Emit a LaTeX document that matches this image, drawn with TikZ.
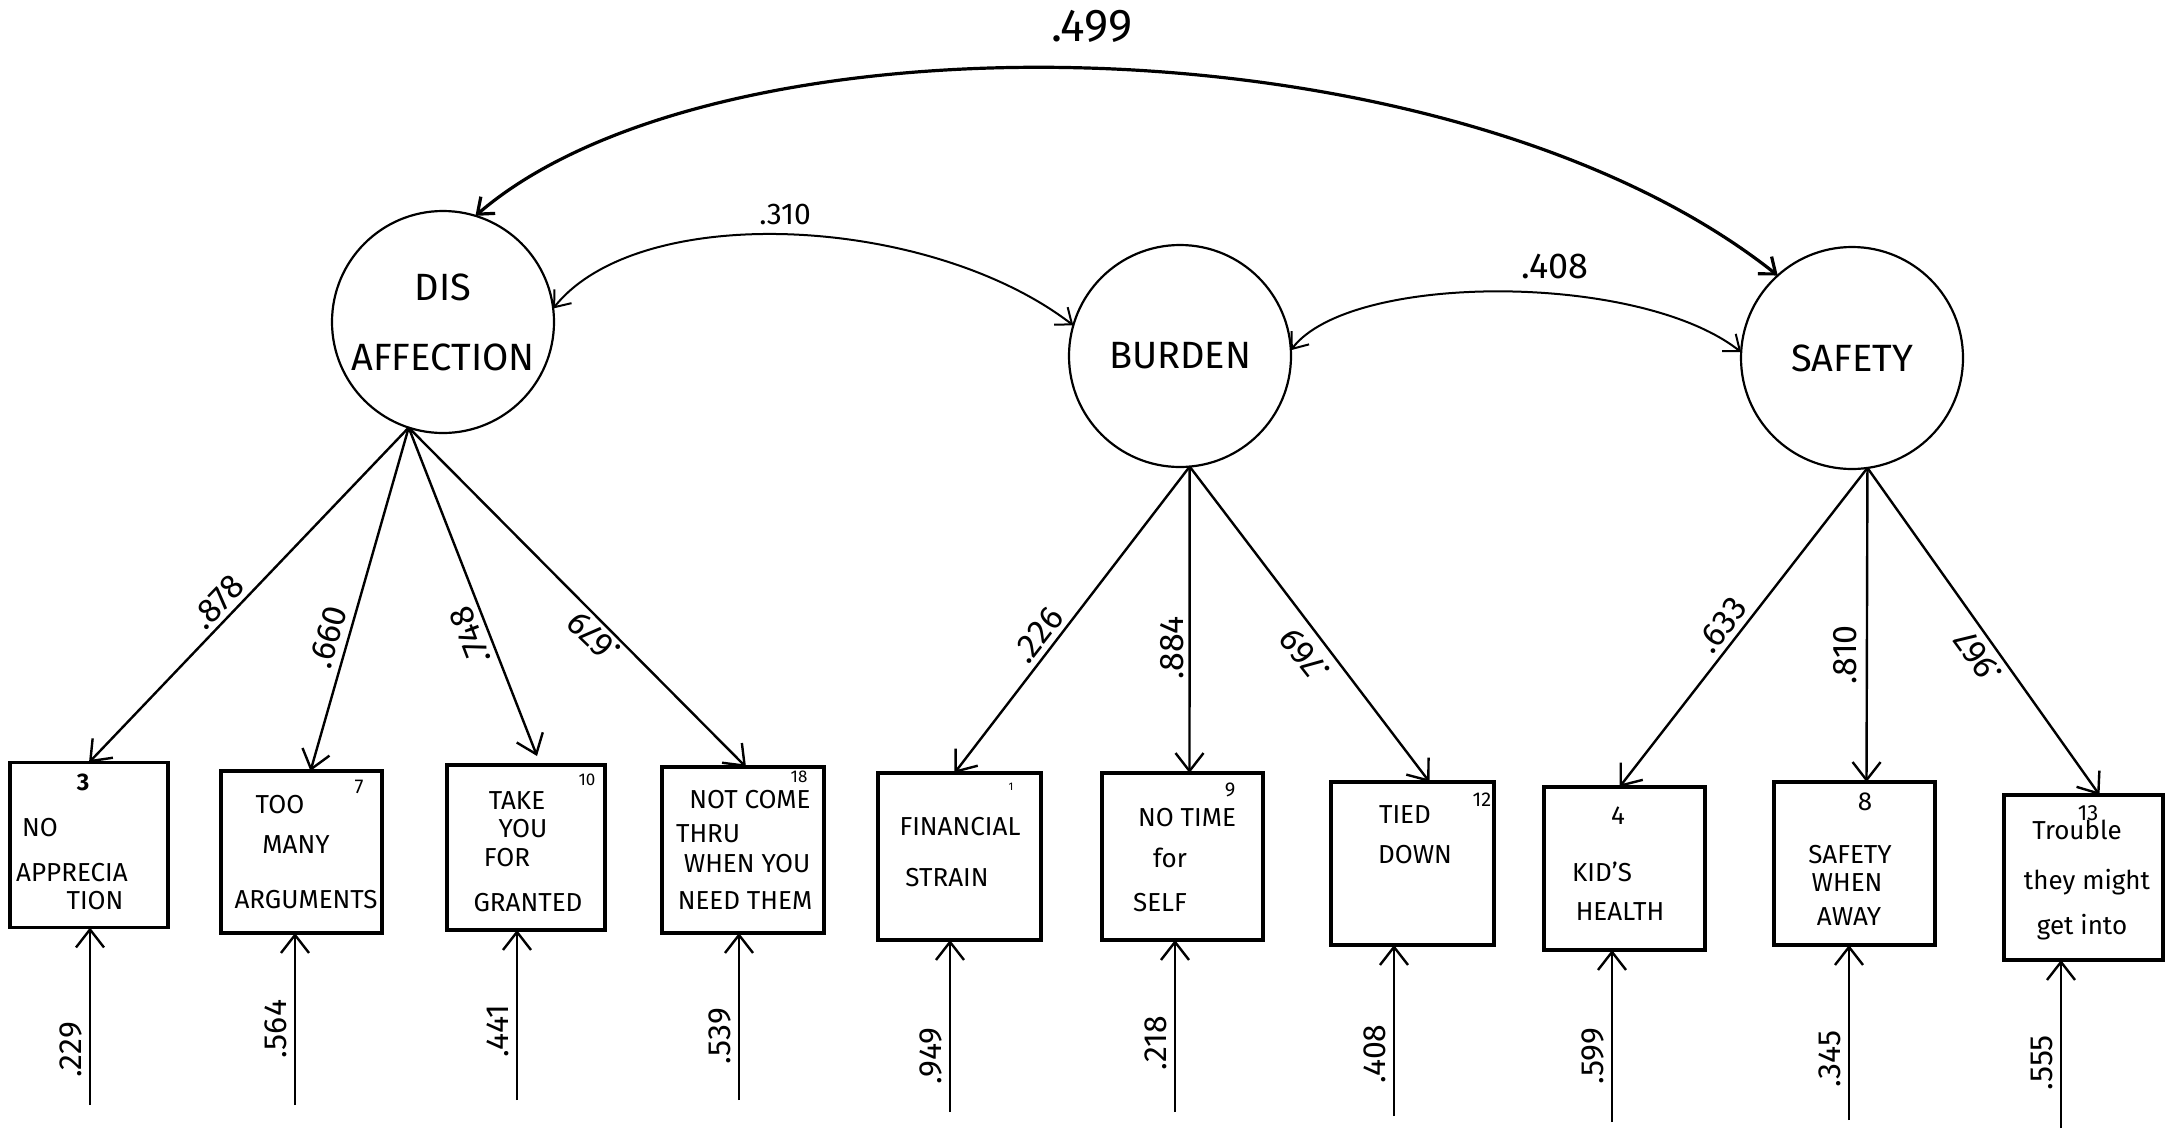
\documentclass[tikz,border=0pt]{standalone}
\usepackage{fontspec}
\setmainfont{Fira Sans}
\usetikzlibrary{arrows.meta}
\begin{document}
\begin{tikzpicture}[x=1pt,y=-1pt,
 every node/.style={inner sep=0pt, outer sep=0pt},
 lat/.style={circle, draw, line width=2.2pt, minimum size=222pt, align=center, font=\fontsize{38}{40}\selectfont},
 obs/.style={draw, line width=3.2pt, rectangle},
 txt/.style={font=\fontsize{26}{30}\selectfont},
 num/.style={font=\fontsize{20}{22}\selectfont},
 coef/.style={font=\fontsize{34}{36}\selectfont},
 errlab/.style={font=\fontsize{32}{34}\selectfont, rotate=90, anchor=south},
 load/.style={line width=2.4pt, -{Straight Barb[length=18pt,width=28pt]}},
 errarr/.style={line width=2.4pt, -{Straight Barb[length=18pt,width=28pt]}},
 cov/.style={line width=2pt, {Straight Barb[length=14pt,width=22pt]}-{Straight Barb[length=14pt,width=22pt]}},
]
\useasboundingbox (0,0) rectangle (2180,1136);
\fill[white] (0,0) rectangle (2180,1136);

% latent variables
\node[lat] (dis) at (443,322) {DIS\\[30pt]AFFECTION};
\node[lat] (bur) at (1180,356) {BURDEN};
\node[lat] (saf) at (1852,358) {SAFETY};

% observed variables
\node[obs, minimum width=158pt, minimum height=165pt] (b1) at (89,845) {};
\node[obs, minimum width=161pt, minimum height=162pt] (b2) at (301.5,852) {};
\node[obs, minimum width=158pt, minimum height=165pt] (b3) at (526,847.5) {};
\node[obs, minimum width=162pt, minimum height=166pt] (b4) at (743,850) {};
\node[obs, minimum width=163pt, minimum height=167pt] (b5) at (959.5,856.5) {};
\node[obs, minimum width=161pt, minimum height=167pt] (b6) at (1182.5,856.5) {};
\node[obs, minimum width=163pt, minimum height=163pt] (b7) at (1412.5,863.5) {};
\node[obs, minimum width=161pt, minimum height=163pt] (b8) at (1624.5,868.5) {};
\node[obs, minimum width=161pt, minimum height=163pt] (b9) at (1854.5,863.5) {};
\node[obs, minimum width=159pt, minimum height=165pt] (b10) at (2083.5,877.5) {};

% box texts
\node[txt] (t1a) at (40,828) {NO};
\node[txt] (t1b) at (72,873) {APPRECIA};
\node[txt] (t1c) at (95,901) {TION};
\node[txt] (t2a) at (280,805) {TOO};
\node[txt] (t2b) at (296,845) {MANY};
\node[txt] (t2c) at (306,900) {ARGUMENTS};
\node[txt] (t3a) at (517,801) {TAKE};
\node[txt] (t3b) at (523,829) {YOU};
\node[txt] (t3c) at (507,858) {FOR};
\node[txt] (t3d) at (528,903) {GRANTED};
\node[txt] (t4a) at (750,800) {NOT COME};
\node[txt] (t4b) at (708,834) {THRU};
\node[txt] (t4c) at (747,864) {WHEN YOU};
\node[txt] (t4d) at (745,901) {NEED THEM};
\node[txt] (t5a) at (960,827) {FINANCIAL};
\node[txt] (t5b) at (947,878) {STRAIN};
\node[txt] (t6a) at (1187,818) {NO TIME};
\node[txt] (t6b) at (1170,858) {for};
\node[txt] (t6c) at (1160,903) {SELF};
\node[txt] (t7a) at (1405,815) {TIED};
\node[txt] (t7b) at (1415,855) {DOWN};
\node[txt] (t8a) at (1602,872) {KID'S};
\node[txt] (t8b) at (1620,912) {HEALTH};
\node[txt] (t9a) at (1850,855) {SAFETY};
\node[txt] (t9b) at (1847,883) {WHEN};
\node[txt] (t9c) at (1849,917) {AWAY};
\node[txt] (t10a) at (2077,830) {Trouble};
\node[txt] (t10b) at (2087,882) {they might};
\node[txt] (t10c) at (2082,927) {get into};

% item numbers
\node[num, font=\fontsize{24}{26}\selectfont\bfseries] (n1) at (83,782) {3};
\node[num] (n2) at (359,787) {7};
\node[num, font=\fontsize{17}{19}\selectfont] (n3) at (587,780) {10};
\node[num, font=\fontsize{17}{19}\selectfont] (n4) at (799,777) {18};
\node[num, font=\fontsize{11}{12}\selectfont] (n5) at (1011,787) {1};
\node[num] (n6) at (1230,790) {9};
\node[num] (n7) at (1482,800) {12};
\node[num, font=\fontsize{26}{28}\selectfont] (n8) at (1618,816) {4};
\node[num, font=\fontsize{26}{28}\selectfont] (n9) at (1865,802) {8};
\node[num, font=\fontsize{22}{24}\selectfont] (n10) at (2088,813) {13};

% loadings
\draw[load] (dis.252) -- (b1.north);
\draw[load] (dis.252) -- ([xshift=9pt]b2.north);
\draw[load] (dis.252) -- ([xshift=11pt,yshift=9pt]b3.north);
\draw[load] (dis.252) -- ([xshift=3pt]b4.north);
\draw[load] (bur.275) -- ([xshift=-5pt]b5.north);
\draw[load] (bur.275) -- ([xshift=7pt]b6.north);
\draw[load] (bur.275) -- ([xshift=17pt]b7.north);
\draw[load] (saf.278) -- ([xshift=-5pt]b8.north);
\draw[load] (saf.278) -- ([xshift=12pt]b9.north);
\draw[load] (saf.278) -- ([xshift=16pt]b10.north);

% loading labels
\node[coef, rotate=46] (l1) at (218,602) {.878};
\node[coef, rotate=74] (l2) at (328,637) {.660};
\node[coef, rotate=111] (l3) at (470,636) {.748};
\node[coef, rotate=136] (l4) at (594,637) {.679};
\node[coef, rotate=52] (l5) at (1038,635) {.226};
\node[coef, rotate=90] (l6) at (1172,648) {.884};
\node[coef, rotate=128] (l7) at (1305,655) {.769};
\node[coef, rotate=52] (l8) at (1722,625) {.633};
\node[coef, rotate=90] (l9) at (1845,655) {.810};
\node[coef, rotate=126] (l10) at (1978,657) {.967};

% error terms
\coordinate (e1) at (90,1105);
\coordinate (e2) at (295,1105);
\coordinate (e3) at (517,1100);
\coordinate (e4) at (739,1100);
\coordinate (e5) at (950,1112);
\coordinate (e6) at (1175,1112);
\coordinate (e7) at (1394,1116);
\coordinate (e8) at (1612,1122);
\coordinate (e9) at (1849,1120);
\coordinate (e10) at (2061,1128);
\foreach \i in {1,...,10} {
  \draw[errarr] (e\i) -- (e\i |- b\i.south);
}
\node[errlab] (r1) at (82,1050) {.229};
\node[errlab] (r2) at (287,1029) {.564};
\node[errlab] (r3) at (509,1031) {.441};
\node[errlab] (r4) at (731,1036) {.539};
\node[errlab] (r5) at (942,1056) {.949};
\node[errlab] (r6) at (1167,1043) {.218};
\node[errlab] (r7) at (1386,1054) {.408};
\node[errlab] (r8) at (1604,1056) {.599};
\node[errlab] (r9) at (1841,1059) {.345};
\node[errlab] (r10) at (2053,1063) {.555};

% covariances
\draw[cov, line width=3.2pt] (dis.73) .. controls (720,5) and (1450,15) .. (saf.132);
\draw[cov] (dis.7) .. controls (640,200) and (930,215) .. (bur.164);
\draw[cov] (bur.3) .. controls (1350,272) and (1640,272) .. (saf.177);
\node[font=\fontsize{46}{48}\selectfont] (c1) at (1092,26) {.499};
\node[font=\fontsize{30}{32}\selectfont] (c2) at (785,214) {.310};
\node[font=\fontsize{36}{38}\selectfont] (c3) at (1555,266) {.408};
\end{tikzpicture}
\end{document}
